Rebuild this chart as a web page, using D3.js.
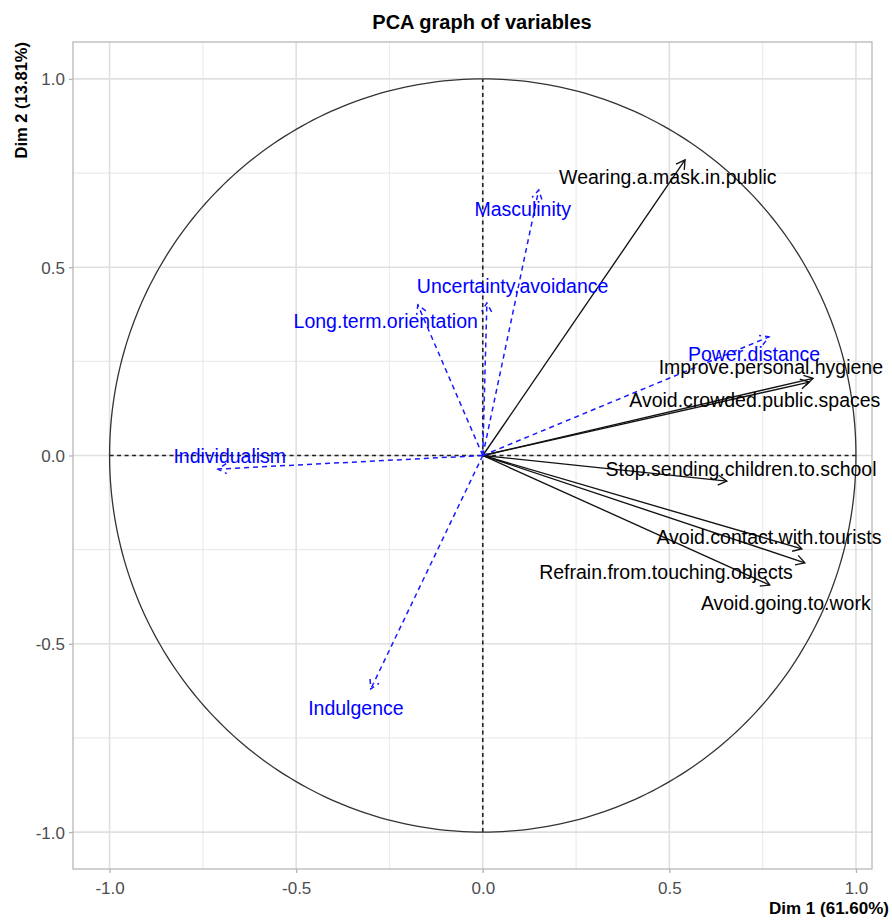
<!DOCTYPE html>
<html>
<head>
<meta charset="utf-8">
<script src="https://cdn.jsdelivr.net/npm/d3@7"></script>
<style>
  body { margin: 0; background: #fff; }
  svg { font-family: "Liberation Sans", Arial, sans-serif; }
</style>
</head>
<body>
<svg id="container" width="892" height="920"></svg>
<script>
// active variables (black, solid arrows)
var activeNames = ["Wearing.a.mask.in.public", "Improve.personal.hygiene", "Avoid.crowded.public.spaces",
  "Stop.sending.children.to.school", "Avoid.contact.with.tourists", "Refrain.from.touching.objects", "Avoid.going.to.work"];
var activeDim1 = [0.542, 0.885, 0.875, 0.654, 0.855, 0.863, 0.769];
var activeDim2 = [0.785, 0.205, 0.195, -0.068, -0.248, -0.285, -0.344];
var activeLabelX = [0.496, 0.772, 0.729, 0.692, 0.767, 0.491, 0.812];
var activeLabelY = [0.740, 0.235, 0.147, -0.036, -0.216, -0.309, -0.392];

// supplementary variables (blue, dashed arrows)
var suppNames = ["Masculinity", "Uncertainty.avoidance", "Long.term.orientation", "Individualism", "Indulgence", "Power.distance"];
var suppDim1 = [0.150, 0.011, -0.174, -0.710, -0.300, 0.767];
var suppDim2 = [0.705, 0.405, 0.400, -0.036, -0.620, 0.315];
var suppLabelX = [0.107, 0.080, -0.260, -0.678, -0.340, 0.727];
var suppLabelY = [0.655, 0.450, 0.357, -0.001, -0.671, 0.270];

var majorTicks = [-1.0, -0.5, 0.0, 0.5, 1.0];
var minorTicks = [-0.75, -0.25, 0.25, 0.75];

const margin = { top: 42, right: 20, bottom: 51, left: 73 },
  w = 892 - margin.left - margin.right,
  h = 920 - margin.top - margin.bottom;

var svg = d3.select("#container");
var g = svg.append("g").attr("transform", "translate(" + margin.left + "," + margin.top + ")");

var xScale = d3.scaleLinear().domain([-1.098, 1.043]).range([0, w]);
var yScale = d3.scaleLinear().domain([-1.098, 1.098]).range([h, 0]);

// grid
g.selectAll(".vminor").data(minorTicks).enter().append("line")
  .attr("x1", d => xScale(d)).attr("x2", d => xScale(d)).attr("y1", 0).attr("y2", h)
  .attr("stroke", "#ebebeb").attr("stroke-width", 1.2);
g.selectAll(".hminor").data(minorTicks).enter().append("line")
  .attr("y1", d => yScale(d)).attr("y2", d => yScale(d)).attr("x1", 0).attr("x2", w)
  .attr("stroke", "#ebebeb").attr("stroke-width", 1.2);
g.selectAll(".vmajor").data(majorTicks).enter().append("line")
  .attr("x1", d => xScale(d)).attr("x2", d => xScale(d)).attr("y1", 0).attr("y2", h)
  .attr("stroke", "#e0e0e0").attr("stroke-width", 1.6);
g.selectAll(".hmajor").data(majorTicks).enter().append("line")
  .attr("y1", d => yScale(d)).attr("y2", d => yScale(d)).attr("x1", 0).attr("x2", w)
  .attr("stroke", "#e0e0e0").attr("stroke-width", 1.6);

// axes (plain hyphen for negatives, like R)
var fmt = d => d3.format(".1f")(d).replace("\u2212", "-");
var xAxis = d3.axisBottom(xScale).tickValues(majorTicks).tickFormat(fmt).tickSize(4).tickSizeOuter(0);
var yAxis = d3.axisLeft(yScale).tickValues(majorTicks).tickFormat(fmt).tickSize(4).tickSizeOuter(0);

var gX = g.append("g").attr("transform", "translate(0," + h + ")").call(xAxis);
var gY = g.append("g").call(yAxis);
[gX, gY].forEach(function (ax) {
  ax.select(".domain").remove();
  ax.selectAll(".tick line").attr("stroke", "#b3b3b3").attr("stroke-width", 1.3);
  ax.selectAll(".tick text").attr("fill", "#4d4d4d").style("font-size", "17px")
    .style("font-family", "Liberation Sans, Arial, sans-serif");
});
gX.selectAll(".tick text").attr("dy", "0").attr("y", 25);
gY.selectAll(".tick text").attr("x", -8).attr("dy", "0.35em");

// panel border
g.append("rect").attr("width", w).attr("height", h)
  .attr("fill", "none").attr("stroke", "#b8b8b8").attr("stroke-width", 1.3);

// dashed axes through origin
g.append("line")
  .attr("x1", xScale(-1)).attr("x2", xScale(1)).attr("y1", yScale(0)).attr("y2", yScale(0))
  .attr("stroke", "#222").attr("stroke-width", 1.6).attr("stroke-dasharray", "4,3.5");
g.append("line")
  .attr("x1", xScale(0)).attr("x2", xScale(0)).attr("y1", yScale(-1)).attr("y2", yScale(1))
  .attr("stroke", "#222").attr("stroke-width", 1.6).attr("stroke-dasharray", "4,3.5");

// correlation circle
var circ = d3.range(0, 361).map(a => [Math.cos(a * Math.PI / 180), Math.sin(a * Math.PI / 180)]);
g.append("path")
  .attr("d", d3.line().x(d => xScale(d[0])).y(d => yScale(d[1]))(circ))
  .attr("fill", "none").attr("stroke", "#333").attr("stroke-width", 1.3);

function arrowHead(x1, y1, x2, y2) {
  var ang = Math.atan2(y2 - y1, x2 - x1), len = 10, spread = Math.PI / 6;
  var ax = x2 - len * Math.cos(ang - spread), ay = y2 - len * Math.sin(ang - spread);
  var bx = x2 - len * Math.cos(ang + spread), by = y2 - len * Math.sin(ang + spread);
  return "M" + ax + "," + ay + "L" + x2 + "," + y2 + "L" + bx + "," + by;
}

function drawArrows(names, d1, d2, color, dash, sw) {
  var grp = g.append("g");
  names.forEach(function (n, i) {
    var x0 = xScale(0), y0 = yScale(0), x1 = xScale(d1[i]), y1 = yScale(d2[i]);
    grp.append("line").attr("x1", x0).attr("y1", y0).attr("x2", x1).attr("y2", y1)
      .attr("stroke", color).attr("stroke-width", sw).attr("stroke-dasharray", dash);
    grp.append("path").attr("d", arrowHead(x0, y0, x1, y1))
      .attr("fill", "none").attr("stroke", color).attr("stroke-width", sw).attr("stroke-dasharray", dash);
  });
}

function drawLabels(names, lx, ly, color) {
  g.append("g").selectAll("text").data(names).enter().append("text")
    .attr("x", (d, i) => xScale(lx[i]))
    .attr("y", (d, i) => yScale(ly[i]))
    .attr("dy", "0.35em")
    .attr("text-anchor", "middle")
    .attr("fill", color)
    .style("font-size", "19.5px")
    .text(d => d);
}

drawArrows(activeNames, activeDim1, activeDim2, "#111", null, 1.35);
drawArrows(suppNames, suppDim1, suppDim2, "#1a1aff", "5,4", 1.5);
drawLabels(suppNames, suppLabelX, suppLabelY, "#0000ff");
drawLabels(activeNames, activeLabelX, activeLabelY, "#000");

// titles
svg.append("text").attr("x", 482).attr("y", 22).attr("dy", "0.35em")
  .attr("text-anchor", "middle").style("font-size", "20px").style("font-weight", "bold")
  .text("PCA graph of variables");
svg.append("text").attr("x", 889).attr("y", 908).attr("dy", "0.35em")
  .attr("text-anchor", "end").style("font-size", "17px").style("font-weight", "bold")
  .text("Dim 1 (61.60%)");
svg.append("text").attr("transform", "translate(21,42) rotate(-90)").attr("dy", "0.35em")
  .attr("text-anchor", "end").style("font-size", "16.5px").style("font-weight", "bold")
  .text("Dim 2 (13.81%)");
</script>
</body>
</html>
